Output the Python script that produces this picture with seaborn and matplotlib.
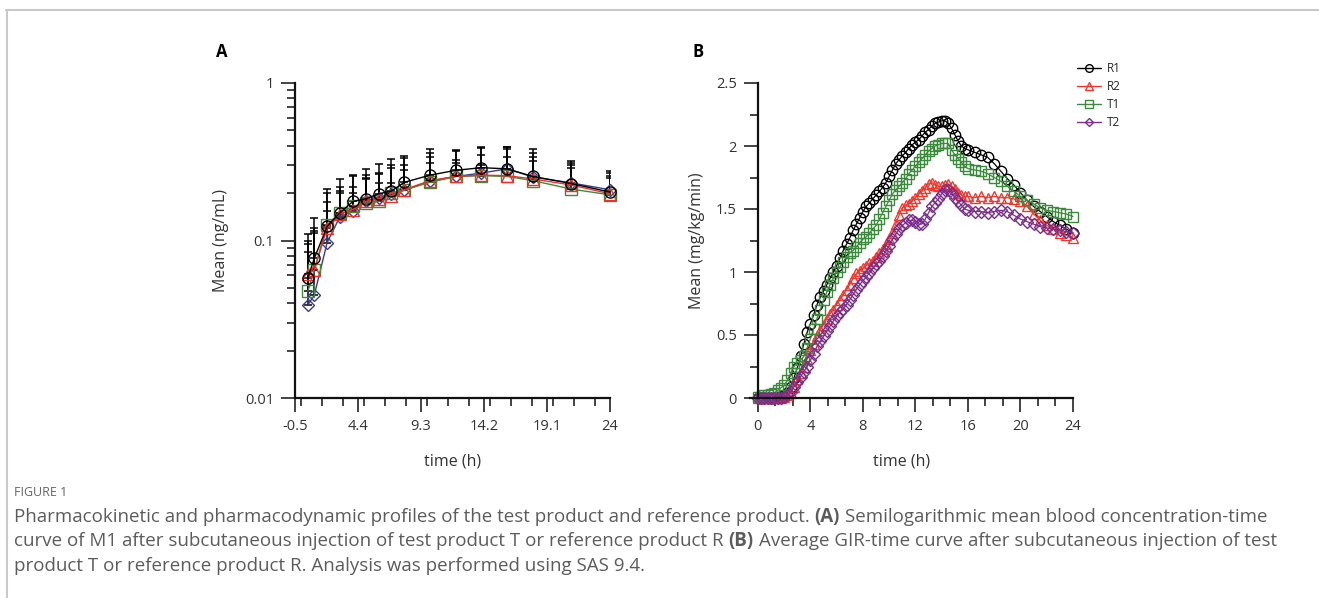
import matplotlib
matplotlib.use("Agg")
import numpy as np
import pandas as pd
import matplotlib.pyplot as plt
import seaborn as sns
from matplotlib.lines import Line2D
from matplotlib.ticker import FixedLocator, LogLocator, NullFormatter, MultipleLocator, FixedFormatter

sns.set_style("ticks")
plt.rcParams['font.family'] = ['Open Sans', 'DejaVu Sans']
plt.rcParams['axes.labelcolor'] = '#333333'
plt.rcParams['xtick.color'] = '#111111'
plt.rcParams['ytick.color'] = '#111111'
plt.rcParams['xtick.labelcolor'] = '#333333'
plt.rcParams['ytick.labelcolor'] = '#333333'

# ======================
# Panel A - PK means (log scale) with upper SD bars
# ======================
pk_time = [0.5, 1, 2, 3, 4, 5, 6, 7, 8, 10, 12, 14, 16, 18, 21, 24]
pk_r1 = [0.058, 0.077, 0.123, 0.150, 0.177, 0.184, 0.198, 0.206, 0.234, 0.260, 0.279, 0.290, 0.285, 0.255, 0.230, 0.203]
pk_r2 = [0.061, 0.065, 0.120, 0.148, 0.157, 0.177, 0.184, 0.193, 0.210, 0.240, 0.255, 0.260, 0.258, 0.246, 0.225, 0.198]
pk_t1 = [0.0475, 0.065, 0.126, 0.150, 0.165, 0.173, 0.177, 0.200, 0.210, 0.234, 0.255, 0.258, 0.255, 0.240, 0.212, 0.195]
pk_t2 = [0.039, 0.045, 0.097, 0.142, 0.153, 0.177, 0.186, 0.198, 0.208, 0.238, 0.255, 0.268, 0.285, 0.253, 0.232, 0.210]
# mean + SD (tops of the error bars)
pk_r1_up = [0.110, 0.138, 0.212, 0.244, 0.262, 0.285, 0.306, 0.330, 0.345, 0.380, 0.377, 0.390, 0.395, 0.380, 0.320, 0.275]
pk_r2_up = [0.100, 0.120, 0.200, 0.220, 0.255, 0.260, 0.268, 0.300, 0.335, 0.360, 0.370, 0.385, 0.390, 0.360, 0.310, 0.268]
pk_t1_up = [0.095, 0.115, 0.175, 0.205, 0.220, 0.250, 0.265, 0.290, 0.300, 0.340, 0.325, 0.350, 0.380, 0.340, 0.300, 0.255]
pk_t2_up = [0.085, 0.112, 0.155, 0.200, 0.200, 0.244, 0.232, 0.232, 0.280, 0.310, 0.310, 0.300, 0.340, 0.318, 0.290, 0.250]
pk_xticks = [-0.5, 4.4, 9.3, 14.2, 19.1, 24]

# ======================
# Panel B - GIR means
# ======================
gir_time = np.concatenate([np.arange(0, 16.01, 0.25), np.arange(16.5, 24.01, 0.5)])
gir_r1 = [0, 0, 0, 0, 0, 0, 0.01, 0.01,
          0.02, 0.04, 0.09, 0.16, 0.24, 0.33, 0.43, 0.52,
          0.59, 0.66, 0.74, 0.80, 0.85, 0.90, 0.95, 1.00,
          1.05, 1.11, 1.17, 1.22, 1.27, 1.33, 1.38, 1.43,
          1.48, 1.52, 1.55, 1.58, 1.61, 1.64, 1.67, 1.71,
          1.76, 1.81, 1.86, 1.89, 1.92, 1.95, 1.98, 2.01,
          2.03, 2.05, 2.08, 2.11, 2.13, 2.16, 2.18, 2.19,
          2.20, 2.20, 2.18, 2.14, 2.09, 2.04, 2.00, 1.98,
          1.97,
          1.95, 1.93, 1.91, 1.86, 1.80, 1.74, 1.69, 1.63,
          1.57, 1.52, 1.48, 1.44, 1.40, 1.37, 1.34, 1.31]
gir_r2 = [0, 0, 0, 0, 0, 0, 0, 0,
          0.01, 0.02, 0.04, 0.09, 0.15, 0.20, 0.25, 0.31,
          0.38, 0.43, 0.49, 0.54, 0.58, 0.63, 0.67, 0.70,
          0.74, 0.78, 0.82, 0.86, 0.90, 0.95, 0.99, 1.01,
          1.03, 1.05, 1.07, 1.09, 1.12, 1.15, 1.18, 1.22,
          1.26, 1.31, 1.38, 1.45, 1.51, 1.53, 1.54, 1.56,
          1.59, 1.62, 1.64, 1.67, 1.70, 1.71, 1.69, 1.68,
          1.68, 1.69, 1.70, 1.68, 1.66, 1.63, 1.61, 1.60,
          1.60,
          1.59, 1.60, 1.59, 1.60, 1.59, 1.59, 1.58, 1.56,
          1.52, 1.46, 1.41, 1.37, 1.34, 1.31, 1.29, 1.27]
gir_t1 = [0.01, 0.01, 0.02, 0.02, 0.03, 0.04, 0.06, 0.08,
          0.10, 0.14, 0.20, 0.25, 0.28, 0.30, 0.33, 0.40,
          0.47, 0.55, 0.63, 0.70, 0.78, 0.84, 0.90, 0.95,
          1.00, 1.04, 1.08, 1.12, 1.15, 1.17, 1.20, 1.23,
          1.26, 1.28, 1.31, 1.34, 1.37, 1.42, 1.47, 1.52,
          1.57, 1.62, 1.65, 1.68, 1.71, 1.74, 1.78, 1.81,
          1.84, 1.87, 1.90, 1.93, 1.96, 1.98, 2.00, 2.01,
          2.02, 2.02, 2.02, 1.97, 1.93, 1.90, 1.87, 1.84,
          1.82,
          1.81, 1.80, 1.78, 1.75, 1.72, 1.68, 1.64, 1.60,
          1.57, 1.54, 1.51, 1.49, 1.48, 1.47, 1.46, 1.44]
gir_t2 = [0, 0, 0, 0, 0, 0, 0, 0,
          0.01, 0.02, 0.05, 0.09, 0.13, 0.17, 0.21, 0.25,
          0.30, 0.35, 0.41, 0.45, 0.49, 0.53, 0.57, 0.61,
          0.65, 0.68, 0.71, 0.74, 0.78, 0.82, 0.86, 0.90,
          0.93, 0.96, 0.99, 1.03, 1.06, 1.09, 1.13, 1.17,
          1.21, 1.26, 1.30, 1.34, 1.37, 1.39, 1.41, 1.41,
          1.40, 1.38, 1.38, 1.42, 1.47, 1.52, 1.55, 1.58,
          1.62, 1.65, 1.65, 1.63, 1.59, 1.56, 1.53, 1.50,
          1.49,
          1.48, 1.48, 1.47, 1.48, 1.49, 1.48, 1.45, 1.42,
          1.40, 1.38, 1.36, 1.35, 1.34, 1.33, 1.32, 1.31]

groups = ['R1', 'R2', 'T1', 'T2']
markers = {'R1': 'o', 'R2': '^', 'T1': 's', 'T2': 'D'}
colors_a = {'R1': '#000000', 'R2': '#e8322a', 'T1': '#3b8d3b', 'T2': '#3c3c8e'}
colors_b = {'R1': '#000000', 'R2': '#f0382e', 'T1': '#3b8a3b', 'T2': '#7b2d8e'}

pk_df = pd.DataFrame({
    'time': pk_time * 4,
    'mean': pk_r1 + pk_r2 + pk_t1 + pk_t2,
    'upper': pk_r1_up + pk_r2_up + pk_t1_up + pk_t2_up,
    'group': np.repeat(groups, len(pk_time)),
})
gir_df = pd.DataFrame({
    'time': np.tile(gir_time, 4),
    'gir': gir_r1 + gir_r2 + gir_t1 + gir_t2,
    'group': np.repeat(groups, len(gir_time)),
})

W, H = 1319, 598
fig = plt.figure(figsize=(W / 100, H / 100), dpi=100)


def px_axes(left, top, width, height):
    return fig.add_axes([left / W, 1 - (top + height) / H, width / W, height / H])


def style_axes(ax):
    sns.despine(ax=ax)
    for s in ['left', 'bottom']:
        ax.spines[s].set_linewidth(1.6)
        ax.spines[s].set_color('#111111')
    ax.tick_params(which='major', direction='out', length=10, width=1.1, labelsize=10.5, pad=5)
    ax.tick_params(which='minor', direction='out', length=5.5, width=1.1)


def open_markers(ax, mew):
    # seaborn draws filled markers; make them hollow like the original
    for line in ax.lines:
        if line.get_marker() in markers.values():
            line.set_markerfacecolor('none')
            line.set_markeredgecolor(line.get_color())
            line.set_markeredgewidth(mew)
            line.set_clip_on(False)


# ---- Panel A ----
axA = px_axes(295, 83, 315, 315)
for g in ['T2', 'T1', 'R2', 'R1']:
    sub = pk_df[pk_df['group'] == g]
    axA.errorbar(sub['time'], sub['mean'], yerr=[np.zeros(len(sub)), sub['upper'] - sub['mean']],
                 fmt='none', ecolor='#000000', elinewidth=1.1, capsize=3, capthick=1.1, zorder=2)
    sns.lineplot(data=sub, x='time', y='mean', ax=axA, color=colors_a[g], marker=markers[g],
                 markersize=8 if g != 'T2' else 6.5, linewidth=1.0, legend=False, zorder=3)
open_markers(axA, 1.0)
axA.set_yscale('log')
axA.set_xlim(-0.5, 24)
axA.set_ylim(0.01, 1)
axA.xaxis.set_major_locator(FixedLocator(pk_xticks))
axA.xaxis.set_major_formatter(FixedFormatter([f'{v:g}' for v in pk_xticks]))
axA.xaxis.set_minor_locator(MultipleLocator(4.9 / 3))
axA.yaxis.set_major_locator(FixedLocator([0.01, 0.1, 1]))
axA.yaxis.set_major_formatter(FixedFormatter(['0.01', '0.1', '1']))
axA.yaxis.set_minor_locator(LogLocator(base=10, subs=np.arange(2, 10)))
axA.yaxis.set_minor_formatter(NullFormatter())
style_axes(axA)
axA.set_xlabel('time (h)', fontsize=11.5)
axA.set_ylabel('Mean (ng/mL)', fontsize=11.5)
axA.xaxis.set_label_coords(0.5, -0.175)
axA.yaxis.set_label_coords(-0.21, 0.5)

# ---- Panel B ----
axB = px_axes(750, 83, 323, 315)
for g in groups:
    sub = gir_df[gir_df['group'] == g]
    sns.lineplot(data=sub, x='time', y='gir', ax=axB, color=colors_b[g], marker=markers[g],
                 markersize=7.5 if g != 'T2' else 6, linewidth=0.9, legend=False)
open_markers(axB, 1.0)
axB.set_xlim(-0.6, 24)
axB.set_ylim(0, 2.5)
axB.spines['left'].set_position(('data', 0))
axB.xaxis.set_major_locator(MultipleLocator(4))
axB.xaxis.set_minor_locator(MultipleLocator(4 / 3))
axB.yaxis.set_major_locator(FixedLocator([0, 0.5, 1, 1.5, 2, 2.5]))
axB.yaxis.set_major_formatter(FixedFormatter(['0', '0.5', '1', '1.5', '2', '2.5']))
axB.yaxis.set_minor_locator(MultipleLocator(0.25))
style_axes(axB)
axB.set_xlabel('time (h)', fontsize=11.5)
axB.set_ylabel('Mean (mg/kg/min)', fontsize=11.5)
axB.xaxis.set_label_coords(0.47, -0.175)
axB.yaxis.set_label_coords(-0.14, 0.5)

handles = [Line2D([], [], color=colors_b[g], marker=markers[g], mfc='none', mec=colors_b[g],
                  lw=1.0, ms=5.5 if g != 'T2' else 4.5, mew=1.0) for g in groups]
fig.legend(handles, groups, loc='upper left', bbox_to_anchor=(1077 / W, 1 - 62 / H), frameon=False,
           fontsize=8.5, handlelength=2.0, handletextpad=0.5, labelspacing=0.42,
           borderpad=0, borderaxespad=0)

# panel letters
fig.text(216 / W, 1 - 52 / H, 'A', fontsize=12, fontweight='bold', va='center', color='#000000')
fig.text(693 / W, 1 - 52 / H, 'B', fontsize=12, fontweight='bold', va='center', color='#000000')

# frame lines of the figure box
fig.add_artist(Line2D([6 / W, 1], [1 - 9.5 / H, 1 - 9.5 / H], color='#c8c8c8', lw=1.5))
fig.add_artist(Line2D([6.5 / W, 6.5 / W], [0, 1 - 9.5 / H], color='#c8c8c8', lw=1.5))

# ======================
# Caption
# ======================
cap_color = '#5c5c5c'
cap_size = 13.5
renderer = fig.canvas.get_renderer()
fig.text(14 / W, 1 - 492 / H, 'FIGURE 1', fontsize=9, color='#666666', va='center')


def text_width(s, **kw):
    t = fig.text(0, 0, s, **kw)
    w = t.get_window_extent(renderer).width
    t.remove()
    return w


space_w = text_width('a a', fontsize=cap_size) - text_width('aa', fontsize=cap_size)


def rich_line(y_px, parts):
    x_px = 14
    for s, bold in parts:
        t = fig.text(x_px / W, 1 - y_px / H, s, fontsize=cap_size, color=cap_color, va='center',
                     fontweight='bold' if bold else 'normal')
        x_px = t.get_window_extent(renderer).x1 + space_w


rich_line(517, [('Pharmacokinetic and pharmacodynamic profiles of the test product and reference product.', False),
                ('(A)', True), ('Semilogarithmic mean blood concentration-time', False)])
rich_line(541, [('curve of M1 after subcutaneous injection of test product T or reference product R', False),
                ('(B)', True), ('Average GIR-time curve after subcutaneous injection of test', False)])
rich_line(566, [('product T or reference product R. Analysis was performed using SAS 9.4.', False)])

fig.savefig('out.png', dpi=100)
